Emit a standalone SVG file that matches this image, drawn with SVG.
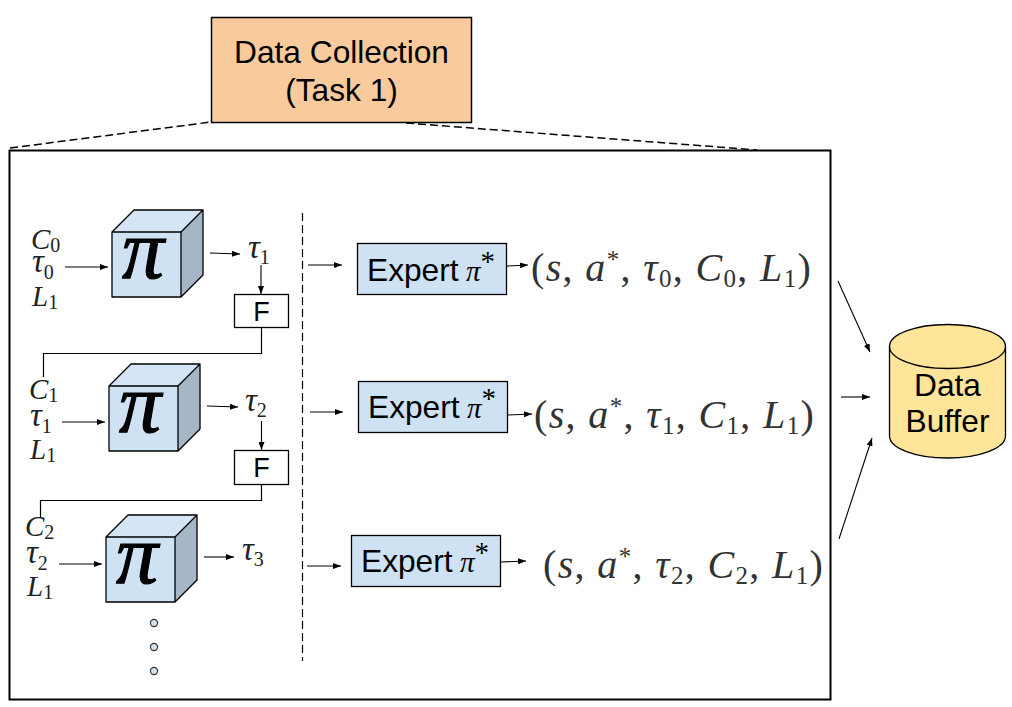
<svg xmlns="http://www.w3.org/2000/svg" width="1012" height="707" viewBox="0 0 1012 707">
<defs>
<marker id="a" viewBox="0 0 8 6" refX="8" refY="3" markerWidth="8" markerHeight="6" orient="auto" markerUnits="userSpaceOnUse"><path d="M0 0L8 3L0 6Z" fill="#000"/></marker>
<g id="cube">
<path d="M0 22L22 0H91L69 22Z" fill="#d6e5f5"/>
<path d="M69 22L91 0V65L69 87Z" fill="#a5b6c6"/>
<rect x="0" y="22" width="69" height="65" fill="#cfe2f3"/>
<path d="M0 22L22 0H91V65L69 87H0ZM0 22H69V87M69 22L91 0" fill="none" stroke="#000" stroke-width="1.300" stroke-linejoin="round"/>
<text x="31" y="68" text-anchor="middle" class="bigpi">π</text>
</g>
</defs>
<style>
text{fill:#000}
.sans{font-family:"Liberation Sans",Arial,sans-serif;font-size:31.700px}
.m{font-family:"Liberation Serif","Times New Roman",serif;font-size:29px;font-style:italic;fill:#222}
.tau{font-size:33px}
.n{font-style:normal}
.s{font-size:20px;font-style:normal}
.t{font-family:"Liberation Serif","Times New Roman",serif;font-size:40px;letter-spacing:1.350px;fill:#333}
.t tspan{font-style:italic}
.t .u{font-style:normal;font-size:25px}
.t .r{font-style:normal}
.bigpi{font-family:"Liberation Serif",serif;font-size:84px;font-style:italic;stroke:#000;stroke-width:1.200px}
.fl{font-family:"Liberation Sans",Arial,sans-serif;font-size:27px}
.pi{font-family:"Liberation Serif",serif;font-size:29px;font-style:italic;fill:#000}
.box{fill:#cfe2f3;stroke:#000;stroke-width:1.300}
.f{fill:#fff;stroke:#000;stroke-width:1.300}
.line{fill:none;stroke:#000;stroke-width:1.200}
.dash{fill:none;stroke:#000;stroke-width:1.500;stroke-dasharray:8 4}
.arr{fill:none;stroke:#000;stroke-width:1.100;marker-end:url(#a)}
.dot{fill:#cfe2f3;stroke:#333;stroke-width:1.200}
</style>
<g id="frame"><rect x="9.500" y="150.500" width="821" height="549" fill="#fff" stroke="#000" stroke-width="2"/></g>
<g id="collection">
<rect x="211.500" y="17.500" width="260" height="105" fill="#f9cb9c" stroke="#000" stroke-width="1.500"/>
<text class="sans" x="341.500" y="63" text-anchor="middle">Data Collection</text>
<text class="sans" x="341.500" y="101" text-anchor="middle">(Task 1)</text>
</g>
<g id="connectors">
<path class="dash" d="M10 148L211 122M406 123L757 150"/>
<path class="line" stroke-dasharray="8 4" d="M302.500 213V661"/>
<path class="arr" d="M65 267H108"/>
<path class="arr" d="M210 253L240 254"/>
<path class="arr" d="M261 265V294"/>
<path class="line" d="M261.500 327V353.500H43.500V377"/>
<path class="arr" d="M62 422H105"/>
<path class="arr" d="M207 406L238 407"/>
<path class="arr" d="M261.500 421V450"/>
<path class="line" d="M261.500 484V500.500H40.500V518"/>
<path class="arr" d="M59 564H102"/>
<path class="arr" d="M204 557H234"/>
<path class="arr" d="M308 265H342"/>
<path class="arr" d="M507 266L528 265"/>
<path class="arr" d="M310 412H343"/>
<path class="arr" d="M508 415L532 414"/>
<path class="arr" d="M307 566H341"/>
<path class="arr" d="M501 562L526 561"/>
<path class="arr" d="M838 281L870 352"/>
<path class="arr" d="M841 397H870"/>
<path class="arr" d="M839 539L872 438"/>
</g>
<g id="policy1">
<use href="#cube" x="112" y="210"/>
<text class="m" x="31" y="249">C<tspan class="s" dy="3">0</tspan></text>
<text class="m tau" x="32" y="272">τ<tspan class="s" dy="7">0</tspan></text>
<text class="m" x="32" y="306">L<tspan class="s" dy="3">1</tspan></text>
<text class="m tau" x="248" y="258">τ<tspan class="s" dy="6">1</tspan></text>
</g>
<g id="filter1"><rect class="f" x="234.500" y="294.500" width="54" height="33"/><text class="fl" x="261.500" y="321" text-anchor="middle">F</text></g>
<g id="policy2">
<use href="#cube" x="109" y="364"/>
<text class="m" x="29" y="399">C<tspan class="s" dy="3">1</tspan></text>
<text class="m tau" x="30" y="426">τ<tspan class="s" dy="7">1</tspan></text>
<text class="m" x="30" y="459">L<tspan class="s" dy="3">1</tspan></text>
<text class="m tau" x="245" y="411">τ<tspan class="s" dy="6">2</tspan></text>
</g>
<g id="filter2"><rect class="f" x="234.500" y="450.500" width="54" height="34"/><text class="fl" x="261.500" y="477" text-anchor="middle">F</text></g>
<g id="policy3">
<use href="#cube" x="106" y="515"/>
<text class="m" x="25" y="536">C<tspan class="s" dy="3">2</tspan></text>
<text class="m tau" x="26" y="563">τ<tspan class="s" dy="7">2</tspan></text>
<text class="m" x="27" y="596">L<tspan class="s" dy="3">1</tspan></text>
<text class="m tau" x="242" y="560">τ<tspan class="s" dy="6">3</tspan></text>
</g>
<g id="dots">
<circle class="dot" cx="154" cy="623" r="3.600"/><circle class="dot" cx="154" cy="647" r="3.600"/><circle class="dot" cx="154" cy="671" r="3.600"/>
</g>
<g id="expert1"><rect class="box" x="357.500" y="243.500" width="149" height="51"/>
<text class="sans" x="367" y="281">Expert</text><text class="pi" x="466" y="281">π<tspan class="n" dy="-10">*</tspan></text></g>
<g id="expert2"><rect class="box" x="358.500" y="381.500" width="149" height="51"/>
<text class="sans" x="368" y="418">Expert</text><text class="pi" x="467" y="418">π<tspan class="n" dy="-10">*</tspan></text></g>
<g id="expert3"><rect class="box" x="351.500" y="535.500" width="149" height="51"/>
<text class="sans" x="361" y="572">Expert</text><text class="pi" x="460" y="572">π<tspan class="n" dy="-10">*</tspan></text></g>
<g id="tuple1"><text class="t" x="531" y="281">(<tspan>s</tspan>, <tspan>a</tspan><tspan class="u" dy="-13">*</tspan><tspan class="r" dy="13">, </tspan><tspan>τ</tspan><tspan class="u" dy="6">0</tspan><tspan class="r" dy="-6">, </tspan><tspan>C</tspan><tspan class="u" dy="6">0</tspan><tspan class="r" dy="-6">, </tspan><tspan>L</tspan><tspan class="u" dy="6">1</tspan><tspan class="r" dy="-6">)</tspan></text></g>
<g id="tuple2"><text class="t" x="534" y="428">(<tspan>s</tspan>, <tspan>a</tspan><tspan class="u" dy="-13">*</tspan><tspan class="r" dy="13">, </tspan><tspan>τ</tspan><tspan class="u" dy="6">1</tspan><tspan class="r" dy="-6">, </tspan><tspan>C</tspan><tspan class="u" dy="6">1</tspan><tspan class="r" dy="-6">, </tspan><tspan>L</tspan><tspan class="u" dy="6">1</tspan><tspan class="r" dy="-6">)</tspan></text></g>
<g id="tuple3"><text class="t" x="543" y="578">(<tspan>s</tspan>, <tspan>a</tspan><tspan class="u" dy="-13">*</tspan><tspan class="r" dy="13">, </tspan><tspan>τ</tspan><tspan class="u" dy="6">2</tspan><tspan class="r" dy="-6">, </tspan><tspan>C</tspan><tspan class="u" dy="6">2</tspan><tspan class="r" dy="-6">, </tspan><tspan>L</tspan><tspan class="u" dy="6">1</tspan><tspan class="r" dy="-6">)</tspan></text></g>
<g id="buffer">
<path d="M889.500 346.500A58 22 0 0 1 1005.500 346.500V436A58 22 0 0 1 889.500 436Z" fill="#ffe599" stroke="#000" stroke-width="1.300"/>
<path d="M889.500 346.500A58 22 0 0 0 1005.500 346.500" fill="none" stroke="#000" stroke-width="1.300"/>
<text class="sans" x="947.500" y="396" text-anchor="middle">Data</text>
<text class="sans" x="947.500" y="432" text-anchor="middle">Buffer</text>
</g>
</svg>
